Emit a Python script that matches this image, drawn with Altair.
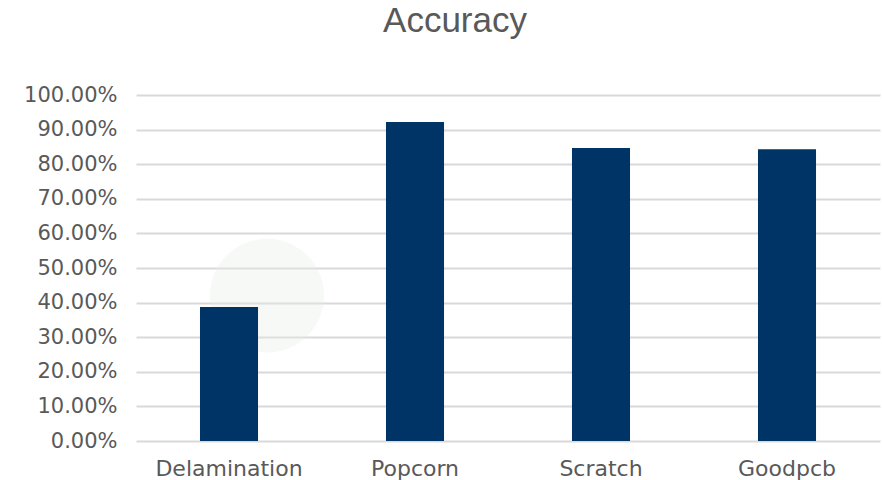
import altair as alt
import pandas as pd

categories = ["Delamination", "Popcorn", "Scratch", "Goodpcb"]
accuracy = [0.387, 0.922, 0.847, 0.843]
tick_values = [0.0, 0.1, 0.2, 0.3, 0.4, 0.5, 0.6, 0.7, 0.8, 0.9, 1.0]

df = pd.DataFrame({"category": categories, "accuracy": accuracy})

TITLE_FONT = "Liberation Sans"
LABEL_FONT = "DejaVu Sans"
TEXT = "#595959"
BAR = "#003366"

x_enc = alt.X(
    "category:N",
    sort=categories,
    scale=alt.Scale(paddingInner=0.688, paddingOuter=0.344),
    axis=alt.Axis(
        title=None, labelAngle=0, labelAlign="center", ticks=False, domain=False,
        grid=False, labelFont=LABEL_FONT, labelFontSize=22, labelColor=TEXT,
        labelPadding=17,
    ),
)
y_enc = alt.Y(
    "accuracy:Q",
    scale=alt.Scale(domain=[0, 1]),
    axis=alt.Axis(
        title=None, format=".2%", values=tick_values, labelOverlap=False,
        ticks=False, domain=False, gridColor="#d9d9d9", gridWidth=2,
        labelFont=LABEL_FONT, labelFontSize=21, labelColor=TEXT, labelPadding=19,
    ),
)

# soft highlight disc behind the first bar
halo_df = pd.DataFrame({"category": ["Delamination"], "accuracy": [0.42]})
halo = alt.Chart(halo_df).mark_point(
    shape="circle", filled=True, size=13000, color="#e9eee9", opacity=0.35,
    xOffset=38,
).encode(x=x_enc, y=y_enc)

bars = alt.Chart(df).mark_bar(color=BAR).encode(x=x_enc, y=y_enc)

chart = (
    alt.layer(halo, bars)
    .properties(
        width=744,
        height=346,
        view=alt.ViewBackground(stroke="transparent", strokeWidth=0),
        title=alt.TitleParams(
            "Accuracy", font=TITLE_FONT, fontSize=35, fontWeight="normal",
            color=TEXT, anchor="middle", dx=-53, offset=45,
        ),
        autosize="none",
        padding={"left": 136, "top": 95, "right": 2, "bottom": 39},
    )
    .configure_view(stroke="transparent", strokeWidth=0)
    .configure(background="white")
)

chart.save("out.html", embed_options={"renderer": "svg", "actions": False})
